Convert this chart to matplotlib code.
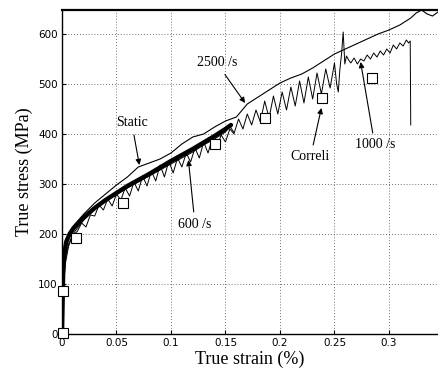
import matplotlib
matplotlib.use("Agg")
import matplotlib.pyplot as plt

# ---- data ----
static_x = [0, 0.0005, 0.001, 0.002, 0.004, 0.007, 0.01, 0.015, 0.02, 0.03, 0.04, 0.05,
            0.06, 0.07, 0.08, 0.09, 0.1, 0.11, 0.12, 0.13, 0.14, 0.15, 0.155]
static_y = [0, 60, 120, 160, 185, 200, 210, 222, 233, 252, 268, 282,
            296, 308, 320, 333, 346, 358, 370, 383, 396, 410, 418]

r2500_x = [0, 0.001, 0.002, 0.005, 0.01, 0.02, 0.03, 0.04, 0.05, 0.06, 0.07, 0.08, 0.09,
           0.1, 0.11, 0.12, 0.13, 0.14, 0.15, 0.16, 0.17, 0.18, 0.19, 0.2, 0.21, 0.22,
           0.23, 0.24, 0.25, 0.26, 0.27, 0.28, 0.29, 0.3, 0.31, 0.32, 0.325, 0.33,
           0.335, 0.34, 0.345]
r2500_y = [0, 100, 165, 195, 215, 240, 262, 280, 298, 314, 334, 342, 350,
           362, 380, 394, 400, 414, 426, 434, 460, 474, 488, 502, 512, 520,
           532, 546, 560, 570, 580, 590, 600, 608, 618, 632, 642, 648,
           640, 636, 644]

r600_x = [0, 0.001, 0.003, 0.006, 0.01, 0.014, 0.018, 0.022, 0.026, 0.03, 0.034, 0.038,
          0.042, 0.046, 0.05, 0.054, 0.058, 0.062, 0.066, 0.07, 0.074, 0.078, 0.082,
          0.086, 0.09, 0.094, 0.098, 0.102, 0.106, 0.11, 0.114, 0.118, 0.122, 0.126,
          0.13, 0.134, 0.138, 0.142, 0.146, 0.15, 0.154, 0.158]
r600_y = [0, 90, 150, 180, 198, 205, 222, 214, 238, 236, 258, 248,
          270, 256, 280, 268, 292, 276, 304, 286, 316, 296, 326,
          306, 338, 314, 346, 322, 352, 334, 362, 344, 372, 352,
          384, 362, 392, 372, 398, 384, 410, 400]

r1000_x = [0, 0.001, 0.003, 0.006, 0.01, 0.02, 0.03, 0.04, 0.05, 0.06, 0.07, 0.08, 0.09,
           0.1, 0.11, 0.12, 0.13, 0.14, 0.15,
           0.154, 0.158, 0.162, 0.166, 0.170, 0.174, 0.178, 0.182, 0.186, 0.190, 0.194,
           0.198, 0.202, 0.206, 0.210, 0.214, 0.218, 0.222, 0.226, 0.230, 0.234, 0.238,
           0.242, 0.246, 0.250, 0.252, 0.2535, 0.255, 0.2565, 0.258, 0.2595, 0.261,
           0.263, 0.265, 0.268, 0.271, 0.274, 0.277, 0.28, 0.283, 0.286, 0.289, 0.292,
           0.295, 0.298, 0.301, 0.304, 0.307, 0.31, 0.313, 0.316, 0.318, 0.3195, 0.32]
r1000_y = [0, 80, 140, 175, 200, 228, 250, 266, 280, 292, 304, 316, 328,
           340, 352, 364, 378, 390, 404,
           416, 402, 430, 410, 440, 418, 448, 424, 466, 432, 476,
           440, 484, 448, 494, 456, 506, 462, 514, 470, 522, 480,
           530, 492, 542, 500, 484, 530, 560, 604, 540, 556,
           548, 542, 552, 540, 550, 546, 558, 550, 562, 554, 566,
           558, 570, 562, 578, 570, 582, 576, 588, 582, 586, 418]

correli_x = [0.001, 0.001, 0.013, 0.056, 0.14, 0.186, 0.239, 0.284]
correli_y = [2, 86, 192, 262, 380, 432, 472, 512]

xticks = [0, 0.05, 0.1, 0.15, 0.2, 0.25, 0.3]
xtick_labels = ["0", "0.05", "0.1", "0.15", "0.2", "0.25", "0.3"]
yticks = [0, 100, 200, 300, 400, 500, 600]
ytick_labels = ["0", "100", "200", "300", "400", "500", "600"]

# ---- figure ----
fig = plt.figure(figsize=(4.38, 3.76), dpi=100)
ax = fig.add_axes([62 / 438, 42 / 376, 1 - 62 / 438, 324 / 376])

ax.plot(r2500_x, r2500_y, color="k", lw=0.8)
ax.plot(r600_x, r600_y, color="k", lw=0.7)
ax.plot(r1000_x, r1000_y, color="k", lw=0.7)
ax.plot(static_x, static_y, color="k", lw=3.2, solid_capstyle="round")
ax.plot(correli_x, correli_y, ls="none", marker="s", ms=6.5, mfc="white",
        mec="k", mew=0.8, zorder=5, clip_on=False)

ax.set_xlim(0, 0.345)
ax.set_ylim(0, 648)
ax.set_xticks(xticks)
ax.set_xticklabels(xtick_labels, family="DejaVu Sans", fontsize=7.5)
ax.set_yticks(yticks)
ax.set_yticklabels(ytick_labels, family="DejaVu Sans", fontsize=7.5)
ax.tick_params(direction="in", length=3, width=0.8, pad=3)
ax.grid(True, color="0.25", ls=(0, (1, 2.5)), lw=0.6)

for s in ["left", "bottom"]:
    ax.spines[s].set_linewidth(1.0)
ax.spines["top"].set_linewidth(1.6)
ax.spines["right"].set_visible(False)

ax.set_xlabel("True strain (%)", family="Liberation Serif", fontsize=13, labelpad=2)
ax.set_ylabel("True stress (MPa)", family="Liberation Serif", fontsize=13, labelpad=4)

ap = dict(arrowstyle="-|>", color="k", lw=0.8, mutation_scale=8, shrinkA=2, shrinkB=0)
tf = dict(family="Liberation Serif", fontsize=10, ha="center", va="center")
ax.annotate("Static", xy=(0.071, 338), xytext=(0.064, 422), arrowprops=ap, **tf)
ax.annotate("2500 /s", xy=(0.168, 462), xytext=(0.142, 542), arrowprops=ap, **tf)
ax.annotate("Correli", xy=(0.238, 452), xytext=(0.228, 354), arrowprops=ap, **tf)
ax.annotate("1000 /s", xy=(0.274, 544), xytext=(0.287, 378), arrowprops=ap, **tf)
ax.annotate("600 /s", xy=(0.116, 348), xytext=(0.122, 220), arrowprops=ap, **tf)

fig.savefig("out.png", dpi=100)
